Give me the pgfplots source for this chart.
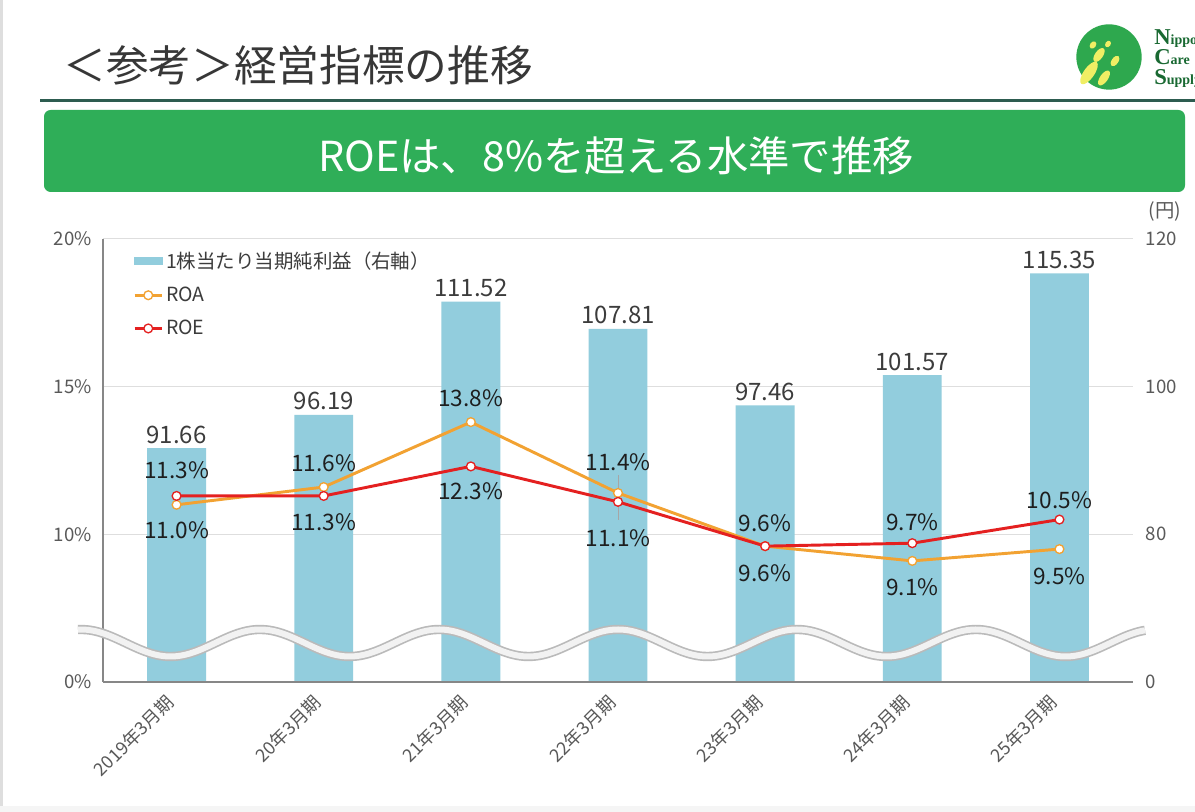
\documentclass[border=0pt]{standalone}
\usepackage{fontspec}
\setmainfont{Noto Sans CJK JP}
\newfontfamily\logofont{Liberation Serif}
\usepackage{pgfplots}
\pgfplotsset{compat=1.18}
\usepackage{pgfplotstable}
\definecolor{barblue}{RGB}{146,205,221}
\definecolor{roacol}{RGB}{242,162,50}
\definecolor{roecol}{RGB}{228,32,32}
\definecolor{gridc}{RGB}{222,222,222}
\definecolor{axc}{RGB}{135,135,135}
\definecolor{tickc}{RGB}{89,89,89}
\definecolor{labc}{RGB}{30,30,30}
\definecolor{barlabc}{RGB}{60,60,60}
\definecolor{bannergreen}{RGB}{47,174,88}
\definecolor{titlec}{RGB}{55,55,55}
\definecolor{rulec}{RGB}{45,92,80}
\definecolor{logogreen}{RGB}{46,168,78}
\definecolor{logoyellow}{RGB}{240,238,100}
\definecolor{logotext}{RGB}{25,105,50}

\pgfplotstableread{
x eps
0 91.66
1 96.19
2 111.52
3 107.81
4 97.46
5 101.57
6 115.35
}\epstable

\pgfplotstableread{
x roa roe
0 11.0 11.3
1 11.6 11.3
2 13.8 12.3
3 11.4 11.1
4 9.6 9.6
5 9.1 9.7
6 9.5 10.5
}\ratiotable

\pgfplotstableread{
x y lab
0 10.15 11.0
1 12.41 11.6
2 14.62 13.8
3 12.45 11.4
4 8.69 9.6
5 8.22 9.1
6 8.59 9.5
}\roalab

\pgfplotstableread{
x y lab
0 12.18 11.3
1 10.42 11.3
2 11.47 12.3
3 9.87 11.1
4 10.38 9.6
5 10.42 9.7
6 11.16 10.5
}\roelab

\begin{document}
\begin{tikzpicture}[x=0.75pt,y=0.75pt]
\fill[white] (0,0) rectangle (1195,812);
\path[use as bounding box] (0,0) rectangle (1195,812);
\fill[black!13] (0,0) rectangle (3,812);
\fill[black!4] (0,0) rectangle (1195,6);

% title
\node[anchor=center, inner sep=0pt, text=titlec, font=\fontsize{32pt}{36pt}\selectfont] at (298,747) {＜参考＞経営指標の推移};
\fill[rulec] (40,710) rectangle (1195,712.5);
% banner
\fill[bannergreen, rounded corners=5pt] (44,620) rectangle (1185,702);
\node[anchor=center, inner sep=0pt, text=white, font=\fontsize{31pt}{36pt}\selectfont] at (616,656) {ROEは、8\%を超える水準で推移};

% logo
\fill[logogreen] (1109,755) circle [radius=24.5pt];
\fill[logoyellow, rotate around={55:(1089,739)}] (1089,739) ellipse [x radius=10pt, y radius=4pt];
\fill[logoyellow, rotate around={55:(1104,734)}] (1104,734) ellipse [x radius=6.5pt, y radius=3pt];
\fill[logoyellow, rotate around={55:(1099,757)}] (1099,757) ellipse [x radius=6pt, y radius=3pt];
\fill[logoyellow, rotate around={55:(1115,751)}] (1115,751) ellipse [x radius=4.5pt, y radius=2.5pt];
\fill[logoyellow, rotate around={55:(1093,767)}] (1093,767) ellipse [x radius=3pt, y radius=2.2pt];
\fill[logoyellow, rotate around={55:(1108,768)}] (1108,768) ellipse [x radius=2.6pt, y radius=2pt];
\node[anchor=base west, inner sep=0pt, text=logotext, font=\logofont\bfseries\fontsize{17pt}{17pt}\selectfont] at (1154,767) {N\fontsize{10.5pt}{10.5pt}\selectfont ippon};
\node[anchor=base west, inner sep=0pt, text=logotext, font=\logofont\bfseries\fontsize{17pt}{17pt}\selectfont] at (1154,747) {C\fontsize{10.5pt}{10.5pt}\selectfont are};
\node[anchor=base west, inner sep=0pt, text=logotext, font=\logofont\bfseries\fontsize{17pt}{17pt}\selectfont] at (1154,727) {S\fontsize{10.5pt}{10.5pt}\selectfont upply};

% unit label
\node[anchor=center, inner sep=0pt, text=tickc, font=\fontsize{14.5pt}{16pt}\selectfont] at (1165,600) {(円)};

% right axis: bars
\begin{axis}[
  at={(77.25pt,97.5pt)}, anchor=south west,
  scale only axis, width=772.5pt, height=332.25pt,
  xmin=-0.5, xmax=6.5, ymin=60, ymax=120,
  hide x axis,
  axis y line*=right,
  y axis line style={draw=none},
  ytick={60,80,100,120}, yticklabels={0,80,100,120},
  major tick length=0pt,
  ymajorgrids, grid style={gridc, line width=0.75pt},
  yticklabel style={font=\fontsize{14pt}{16pt}\selectfont, text=tickc, xshift=6pt},
  /pgf/number format/assume math mode=true,
  bar width=0.4,
]
\addplot[ybar, fill=barblue, draw=none,
  nodes near coords, point meta=explicit symbolic,
  nodes near coords style={font=\fontsize{18pt}{20pt}\selectfont, text=barlabc}]
  table[x=x, y=eps, meta=eps] {\epstable};
\end{axis}

% left axis: ratios
\begin{axis}[
  at={(77.25pt,97.5pt)}, anchor=south west,
  scale only axis, width=772.5pt, height=332.25pt,
  xmin=-0.5, xmax=6.5, ymin=5, ymax=20,
  axis x line*=bottom, axis y line*=left,
  axis line style={-},
  x axis line style={draw=axc, line width=1.6pt},
  y axis line style={draw=axc, line width=1.1pt},
  xtick={0,...,6},
  xticklabels={2019年3月期,20年3月期,21年3月期,22年3月期,23年3月期,24年3月期,25年3月期},
  ytick={5,10,15,20}, yticklabels={0\%,10\%,15\%,20\%},
  major tick length=0pt,
  /pgf/number format/assume math mode=true,
  yticklabel style={font=\fontsize{14pt}{16pt}\selectfont, text=tickc, xshift=-5pt},
  xticklabel style={xshift=-2pt, yshift=-10.5pt, font=\fontsize{13.5pt}{15pt}\selectfont, text=tickc, rotate=45, anchor=east},
  legend style={at={(0.029,0.978)}, anchor=north west, draw=none, fill=none,
    font=\fontsize{14.6pt}{16pt}\selectfont, text=barlabc, row sep=8.5pt, inner sep=0pt,
    cells={anchor=west}},
  legend image code/.code={\draw[mark repeat=2,mark phase=2,#1] plot coordinates {(0cm,0cm) (0.36cm,0cm) (0.72cm,0cm)};},
  clip=false,
]
\addlegendimage{legend image code/.code={\fill[barblue] (0cm,-0.09cm) rectangle (0.72cm,0.09cm);}}
\addlegendentry{1株当たり当期純利益（右軸）}
\addplot[gray!70, line width=0.6pt, forget plot] coordinates {(3,12.0) (3,10.5)};
\addplot[roacol, line width=2.2pt, mark=*, mark size=3.3pt, mark options={fill=white, draw=roacol, line width=1pt}]
  table[x=x, y=roa] {\ratiotable};
\addlegendentry{ROA}
\addplot[roecol, line width=2.2pt, mark=*, mark size=3.3pt, mark options={fill=white, draw=roecol, line width=1pt}]
  table[x=x, y=roe] {\ratiotable};
\addlegendentry{ROE}
\addplot[draw=none, mark=none, forget plot, nodes near coords={\pgfplotspointmeta\%},
  point meta=explicit symbolic,
  nodes near coords style={anchor=center, font=\fontsize{17pt}{19pt}\selectfont, text=labc}]
  table[x=x, y=y, meta=lab] {\roalab};
\addplot[draw=none, mark=none, forget plot, nodes near coords={\pgfplotspointmeta\%},
  point meta=explicit symbolic,
  nodes near coords style={anchor=center, font=\fontsize{17pt}{19pt}\selectfont, text=labc}]
  table[x=x, y=y, meta=lab] {\roelab};
\end{axis}

% axis break wave
\draw[black!27, line width=7pt] plot[domain=78:1145, samples=240, smooth] (\x, {169 + 13.5*cos(2.01117*(\x-260))});
\draw[black!5, line width=4.5pt] plot[domain=78:1145, samples=240, smooth] (\x, {169 + 13.5*cos(2.01117*(\x-260))});
\end{tikzpicture}
\end{document}
